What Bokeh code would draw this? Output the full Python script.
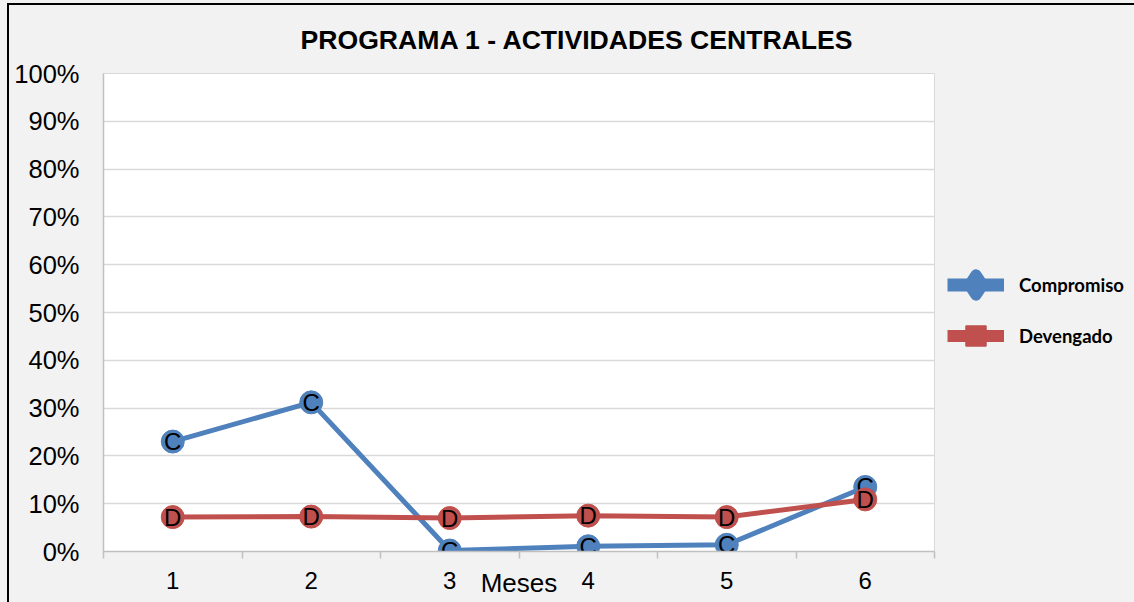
from bokeh.plotting import figure
from bokeh.layouts import row
from bokeh.models import Range1d, FixedTicker, NumeralTickFormatter, Legend, LegendItem
from bokeh.embed import file_html
from bokeh.resources import INLINE
from bokeh.core.properties import value

# ---- data ----
meses = ["1", "2", "3", "4", "5", "6"]
compromiso = [0.230, 0.312, 0.002, 0.011, 0.014, 0.135]
devengado = [0.072, 0.073, 0.070, 0.075, 0.072, 0.109]
y_ticks = [0.0, 0.1, 0.2, 0.3, 0.4, 0.5, 0.6, 0.7, 0.8, 0.9, 1.0]
titulo = "PROGRAMA 1 - ACTIVIDADES CENTRALES"
eje_x = "Meses"
nombres = ["Compromiso", "Devengado"]
etiquetas = ["C", "D"]

AZUL = "#4f81bd"
ROJO = "#c0504d"
GRIS = "#f2f2f2"
FONT = "Liberation Sans"

x = list(range(1, len(meses) + 1))

p = figure(width=945, height=602, output_backend="svg", toolbar_location=None,
           x_range=Range1d(0.5, len(meses) + 0.5), y_range=Range1d(0, 1),
           min_border_left=103, min_border_right=11, min_border_top=73, min_border_bottom=51,
           background_fill_color="white", border_fill_color=None,
           outline_line_color="#d9d9d9")

# title
p.title.text = titulo
p.title.text_font = FONT
p.title.text_font_style = "bold"
p.title.text_font_size = "26.6px"
p.title.text_color = "black"
p.title.align = "left"
p.title.offset = 197
p.title.vertical_align = "middle"
p.title.standoff = 35

# grid
p.xgrid.visible = False
p.ygrid.ticker = FixedTicker(ticks=y_ticks)
p.ygrid.grid_line_color = "#d9d9d9"
p.ygrid.grid_line_width = 1.5

# y axis
p.yaxis.ticker = FixedTicker(ticks=y_ticks)
p.yaxis.formatter = NumeralTickFormatter(format="0%")
p.yaxis.major_label_text_font = FONT
p.yaxis.major_label_text_font_size = "25.5px"
p.yaxis.major_label_text_color = "black"
p.yaxis.major_tick_out = 0
p.yaxis.major_tick_in = 0
p.yaxis.minor_tick_line_color = None
p.yaxis.axis_line_color = "#c0c0c0"
p.yaxis.axis_line_width = 1.5
p.yaxis.major_label_standoff = 24

# x axis
p.xaxis.ticker = FixedTicker(ticks=x, minor_ticks=[i + 0.5 for i in range(0, len(meses) + 1)])
p.xaxis.major_label_overrides = {i: m for i, m in zip(x, meses)}
p.xaxis.major_label_text_font = FONT
p.xaxis.major_label_text_font_size = "24px"
p.xaxis.major_label_text_color = "black"
p.xaxis.major_tick_out = 0
p.xaxis.major_tick_in = 0
p.xaxis.minor_tick_out = 7
p.xaxis.minor_tick_in = 0
p.xaxis.minor_tick_line_color = "#c0c0c0"
p.xaxis.minor_tick_line_width = 1.5
p.xaxis.axis_line_color = "#c0c0c0"
p.xaxis.axis_line_width = 1.5
p.xaxis.major_label_standoff = 13
p.xaxis.axis_label = eje_x
p.xaxis.axis_label_text_font = FONT
p.xaxis.axis_label_text_font_size = "26px"
p.xaxis.axis_label_text_font_style = "normal"
p.xaxis.axis_label_text_color = "black"
p.xaxis.axis_label_standoff = -24

# series
for vals, col, lab in [(compromiso, AZUL, etiquetas[0]), (devengado, ROJO, etiquetas[1])]:
    p.line(x, vals, line_color=col, line_width=5)
    p.scatter(x, vals, marker="circle", size=23, fill_color=col, line_color=col)
    p.text(x, vals, text=[lab] * len(x), text_align="center", text_baseline="middle",
           text_font=value(FONT), text_font_size="24px", text_color="black")

# ---- legend panel (separate figure to the right) ----
q = figure(width=189, height=602, output_backend="svg", toolbar_location=None,
           x_axis_type=None, y_axis_type=None, min_border=0,
           background_fill_color=None, border_fill_color=None, outline_line_color=None)
q.grid.visible = False

lc = q.line(x, compromiso, line_color=AZUL, line_width=13, visible=False)
mc = q.scatter(x, compromiso, marker="diamond", fill_color=AZUL, line_color=AZUL,
               line_width=11, line_join="round", visible=False)
ld = q.line(x, devengado, line_color=ROJO, line_width=12, visible=False)
md = q.scatter(x, devengado, marker="square", fill_color=ROJO, line_color=ROJO,
               line_width=1, line_join="round", visible=False)

legend = Legend(items=[LegendItem(label=nombres[0], renderers=[lc, mc], index=0),
                       LegendItem(label=nombres[1], renderers=[ld, md], index=0)],
                location=(2, 190), glyph_width=57, glyph_height=51, spacing=0,
                label_standoff=15, margin=0, padding=0,
                border_line_color=None, background_fill_alpha=0,
                label_text_font="Lato", label_text_font_style="bold",
                label_text_font_size="18.5px", label_text_color="black")
q.add_layout(legend)

layout = row(p, q, styles={
    "background-color": GRIS,
    "background-image": "linear-gradient(#000, #000), linear-gradient(#000, #000)",
    "background-size": "100% 2px, 2px 100%",
    "background-position": "7px 3px, 7px 3px",
    "background-repeat": "no-repeat",
})

open("out.html", "w").write(file_html(layout, INLINE))
